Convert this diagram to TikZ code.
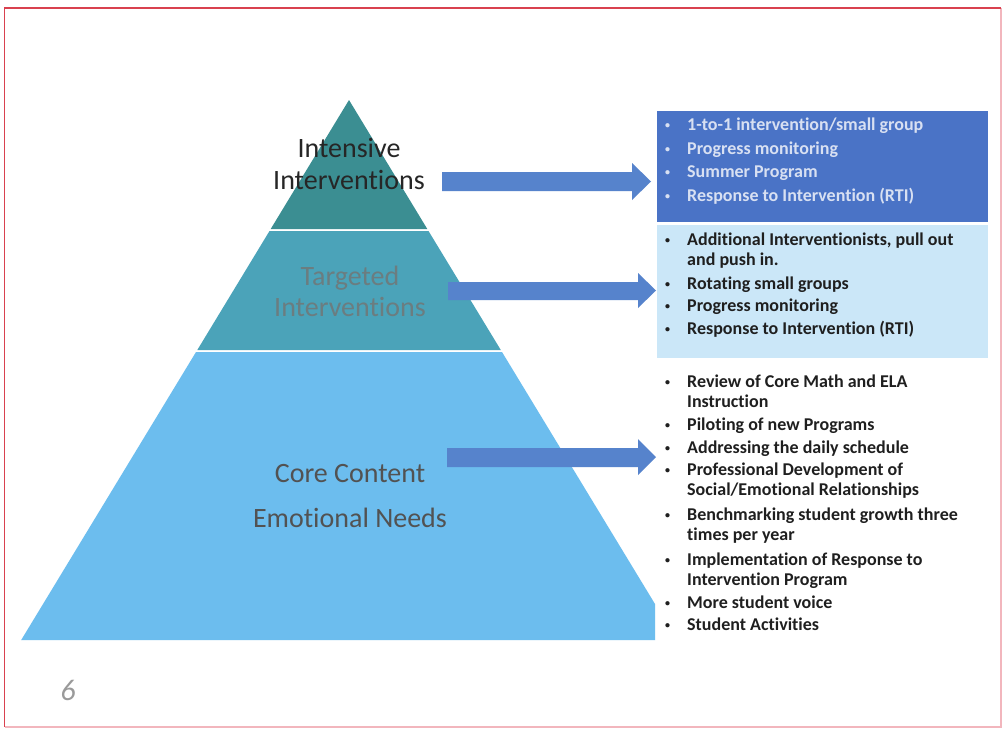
\documentclass[tikz,border=0pt]{standalone}
\usepackage{fontspec}
\setmainfont{Carlito}[Ligatures=NoCommon]
\definecolor{tierTop}{HTML}{3B8E92}
\definecolor{tierMid}{HTML}{4BA3B9}
\definecolor{tierBase}{HTML}{6CBDEE}
\definecolor{arrowBlue}{HTML}{5683CC}
\definecolor{boxDark}{HTML}{4A73C6}
\definecolor{boxDarkText}{HTML}{D8E0F2}
\definecolor{boxLight}{HTML}{CBE7F8}
\definecolor{frameRed}{HTML}{D9414F}
\definecolor{framePink}{HTML}{F2B6BD}
\definecolor{penGray}{HTML}{9A9A9A}
\definecolor{midText}{HTML}{6B7D80}
\tikzset{
  tiertext/.style={font=\fontsize{28}{32}\selectfont, inner sep=0pt, anchor=base},
  listtext/.style={font=\bfseries\fontsize{18}{22}\selectfont, inner sep=0pt, anchor=base west, text=black!88},
  lighttext/.style={listtext, text=boxDarkText},
  blockarrow/.style={fill=arrowBlue, draw=none},
}
% small list bullet
\newcommand\smallbullet{\raisebox{1.8pt}{\fontsize{10}{10}\selectfont\textbullet}}
% one bulleted line and one continuation line of a list
\newcommand\bulletline[4][]{\node[listtext,#1] (#2) at (665,#3) {\makebox[22pt][l]{\smallbullet}#4};}
\newcommand\contline[4][]{\node[listtext,#1] (#2) at (687,#3) {#4};}
\begin{document}
\begin{tikzpicture}[x=1pt,y=-1pt]
\useasboundingbox (0,0) rectangle (1003,729);
\fill[white] (0,0) rectangle (1003,729);

% page frame
\draw[framePink, line width=1.2pt] (4.5,727) -- (1001,727) -- (1001,8);
\draw[frameRed, line width=1.5pt] (4.5,727) -- (4.5,8) -- (1001,8);

% pyramid tiers
\fill[tierTop]  (349,100) -- (427.3,229) -- (270.7,229) -- cycle;
\fill[tierMid]  (269.5,231) -- (428.5,231) -- (500.8,350) -- (197.3,350) -- cycle;
\fill[tierBase] (196.0,352) -- (502.0,352) -- (655,604) -- (655,640) -- (21.2,640) -- cycle;

% tier labels
\node[tiertext, text=black!85] (int1) at (349,157) {Intensive};
\node[tiertext, text=black!85] (int2) at (349,189) {Interventions};
\node[tiertext, text=midText] (tgt1) at (350,285) {Targeted};
\node[tiertext, text=midText] (tgt2) at (350,316) {Interventions};
\node[tiertext, text=black!68] (core1) at (350,482) {Core Content};
\node[tiertext, text=black!68] (core2) at (350,527) {Emotional Needs};

% list panels
\fill[boxDark]  (657,111) rectangle (988,222);
\fill[boxLight] (657,225) rectangle (988,358);

% block arrows from the tiers to their panels
\fill[blockarrow] (442,172) -- (632,172) -- (632,163) -- (651,181.5) -- (632,200) -- (632,191) -- (442,191) -- cycle;
\fill[blockarrow] (448,282) -- (638,282) -- (638,273) -- (656,290.5) -- (638,308) -- (638,300) -- (448,300) -- cycle;
\fill[blockarrow] (447,448) -- (638,448) -- (638,439) -- (656,457) -- (638,475) -- (638,467) -- (447,467) -- cycle;

% intensive interventions
\bulletline[lighttext]{a1}{130.5}{1-to-1 intervention/small group}
\bulletline[lighttext]{a2}{154}{Progress monitoring}
\bulletline[lighttext]{a3}{177.5}{Summer Program}
\bulletline[lighttext]{a4}{201}{Response to Intervention (RTI)}

% targeted interventions
\bulletline{b1}{245}{Additional Interventionists, pull out}
\contline{b1c}{265.5}{and push in.}
\bulletline{b2}{289}{Rotating small groups}
\bulletline{b3}{311.5}{Progress monitoring}
\bulletline{b4}{334}{Response to Intervention (RTI)}

% core content
\bulletline{c1}{387}{Review of Core Math and ELA}
\contline{c1c}{407.5}{Instruction}
\bulletline{c2}{430}{Piloting of new Programs}
\bulletline{c3}{453}{Addressing the daily schedule}
\bulletline{c4}{475}{Professional Development of}
\contline{c4c}{495.5}{Social/Emotional Relationships}
\bulletline{c5}{520}{Benchmarking student growth three}
\contline{c5c}{540.5}{times per year}
\bulletline{c6}{565}{Implementation of Response to}
\contline{c6c}{585.5}{Intervention Program}
\bulletline{c7}{608}{More student voice}
\bulletline{c8}{630}{Student Activities}

% page number written by hand
\node[font=\fontsize{30}{30}\selectfont\itshape, text=penGray, inner sep=0pt, anchor=base] (pg) at (68,700) {6};
\end{tikzpicture}
\end{document}
